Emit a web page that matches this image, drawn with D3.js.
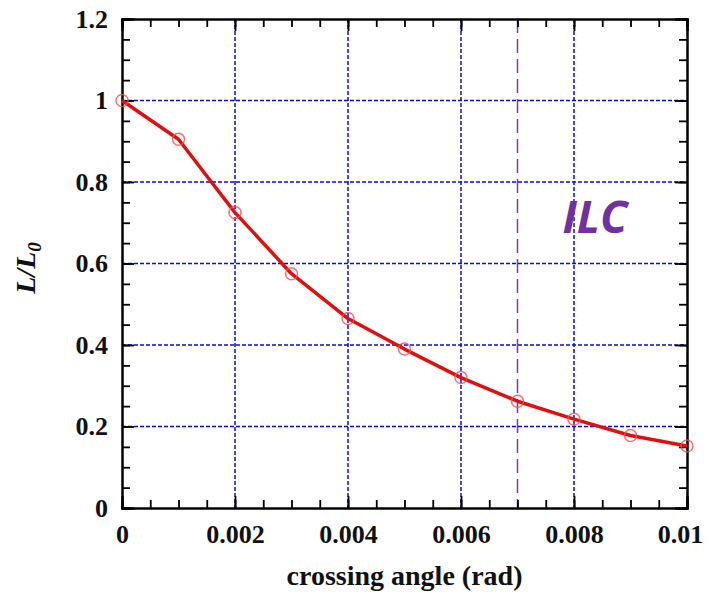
<!DOCTYPE html>
<html>
<head>
<meta charset="utf-8">
<script src="https://cdn.jsdelivr.net/npm/d3@7"></script>
<style>
  body { margin: 0; background: #fff; }
</style>
</head>
<body>
<div id="chart"></div>
<script>
// data
var angles = [0, 0.001, 0.002, 0.003, 0.004, 0.005, 0.006, 0.007, 0.008, 0.009, 0.01];
var lumi = [1.0, 0.905, 0.725, 0.575, 0.465, 0.39, 0.32, 0.262, 0.218, 0.178, 0.152];
var xTicks = [0, 0.002, 0.004, 0.006, 0.008, 0.01];
var xTickLabels = ["0", "0.002", "0.004", "0.006", "0.008", "0.01"];
var yTicks = [0, 0.2, 0.4, 0.6, 0.8, 1, 1.2];
var yTickLabels = ["0", "0.2", "0.4", "0.6", "0.8", "1", "1.2"];
var ilcAngle = 0.007;

var width = 709;
var height = 592;
var margins = { top: 19, bottom: 84, left: 122, right: 22 };
var w = width - margins.left - margins.right;
var h = height - margins.top - margins.bottom;
var serif = "'Liberation Serif', 'Times New Roman', serif";

var svg = d3.select("#chart")
  .append("svg")
  .attr("width", width)
  .attr("height", height);

var g = svg.append("g")
  .attr("transform", `translate(${margins.left},${margins.top})`);

var x = d3.scaleLinear().domain([0, 0.01]).range([0, w]);
var y = d3.scaleLinear().domain([0, 1.2]).range([h, 0]);

// grid lines (dotted blue)
g.append("g")
  .selectAll("line")
  .data(xTicks.slice(1, -1))
  .enter().append("line")
  .attr("x1", d => x(d)).attr("x2", d => x(d))
  .attr("y1", 0).attr("y2", h)
  .attr("stroke", "#0a0ae6")
  .attr("stroke-width", 1.5)
  .attr("stroke-dasharray", "4,2");
g.append("g")
  .selectAll("line")
  .data(yTicks.slice(1, -1))
  .enter().append("line")
  .attr("x1", 0).attr("x2", w)
  .attr("y1", d => y(d)).attr("y2", d => y(d))
  .attr("stroke", "#0a0ae6")
  .attr("stroke-width", 1.5)
  .attr("stroke-dasharray", "4,2");

// ILC line
g.append("line")
  .attr("x1", x(ilcAngle)).attr("x2", x(ilcAngle))
  .attr("y1", 0).attr("y2", h)
  .attr("stroke", "#7b3aa8")
  .attr("stroke-width", 1.5)
  .attr("stroke-dasharray", "14,6");

g.append("text")
  .attr("x", 595 - margins.left)
  .attr("y", 233 - margins.top)
  .attr("text-anchor", "middle")
  .attr("font-family", "'Open Sans', 'Noto Sans', sans-serif")
  .attr("font-style", "italic")
  .attr("font-weight", "bold")
  .attr("font-size", 45)
  .attr("fill", "#7030a0")
  .text("ILC");

// axes: major ticks with labels, minor ticks, all inward
var minorX = d3.range(0, 0.01 + 1e-9, 0.0005);
var minorY = d3.range(0, 1.2 + 1e-9, 0.05);

g.append("g")
  .attr("transform", `translate(0,${h})`)
  .call(d3.axisBottom(x).tickValues(minorX).tickSize(-8).tickFormat(""));
g.append("g")
  .attr("class", "xlab")
  .attr("transform", `translate(0,${h})`)
  .call(d3.axisBottom(x).tickValues(xTicks).tickSize(-12).tickPadding(17)
    .tickFormat((d, i) => xTickLabels[i]));
g.append("g")
  .call(d3.axisTop(x).tickValues(minorX).tickSize(-8).tickFormat(""));
g.append("g")
  .call(d3.axisTop(x).tickValues(xTicks).tickSize(-12).tickFormat(""));

g.append("g")
  .call(d3.axisLeft(y).tickValues(minorY).tickSize(-8).tickFormat(""));
g.append("g")
  .attr("class", "ylab")
  .call(d3.axisLeft(y).tickValues(yTicks).tickSize(-12).tickPadding(14)
    .tickFormat((d, i) => yTickLabels[i]));
g.append("g")
  .attr("transform", `translate(${w},0)`)
  .call(d3.axisRight(y).tickValues(minorY).tickSize(-8).tickFormat(""));
g.append("g")
  .attr("transform", `translate(${w},0)`)
  .call(d3.axisRight(y).tickValues(yTicks).tickSize(-12).tickFormat(""));

g.selectAll(".domain").attr("stroke", "#000").attr("stroke-width", 2);
g.selectAll(".tick line").attr("stroke", "#000").attr("stroke-width", 1.8);
g.selectAll(".tick text")
  .style("font-family", serif)
  .style("font-weight", "bold")
  .style("font-size", "26px")
  .style("fill", "#111");
// keep the last x label inside the page
g.selectAll(".xlab .tick text").filter(d => d === 0.01).attr("dx", -7);

// data line
var line = d3.line()
  .x((d, i) => x(angles[i]))
  .y(d => y(d));

g.append("path")
  .datum(lumi)
  .attr("d", line)
  .attr("fill", "none")
  .attr("stroke", "#e01010")
  .attr("stroke-width", 3.5)
  .attr("stroke-linejoin", "round");

g.selectAll("circle")
  .data(lumi)
  .enter().append("circle")
  .attr("cx", (d, i) => x(angles[i]))
  .attr("cy", d => y(d))
  .attr("r", 6)
  .attr("fill", "none")
  .attr("stroke", "#f05050")
  .attr("stroke-opacity", 0.8)
  .attr("stroke-width", 1.5);

// axis titles
svg.append("text")
  .attr("x", margins.left + w / 2)
  .attr("y", 585)
  .attr("text-anchor", "middle")
  .style("font-family", serif)
  .style("font-weight", "bold")
  .style("font-size", "28px")
  .attr("fill", "#111")
  .text("crossing angle (rad)");

var yl = svg.append("text")
  .attr("transform", "translate(35,268) rotate(-90)")
  .attr("text-anchor", "middle")
  .style("font-family", serif)
  .style("font-weight", "bold")
  .style("font-style", "italic")
  .style("font-size", "28px")
  .attr("fill", "#111");
yl.append("tspan").text("L/L");
yl.append("tspan").attr("baseline-shift", "-30%").style("font-size", "19px").text("0");
</script>
</body>
</html>
